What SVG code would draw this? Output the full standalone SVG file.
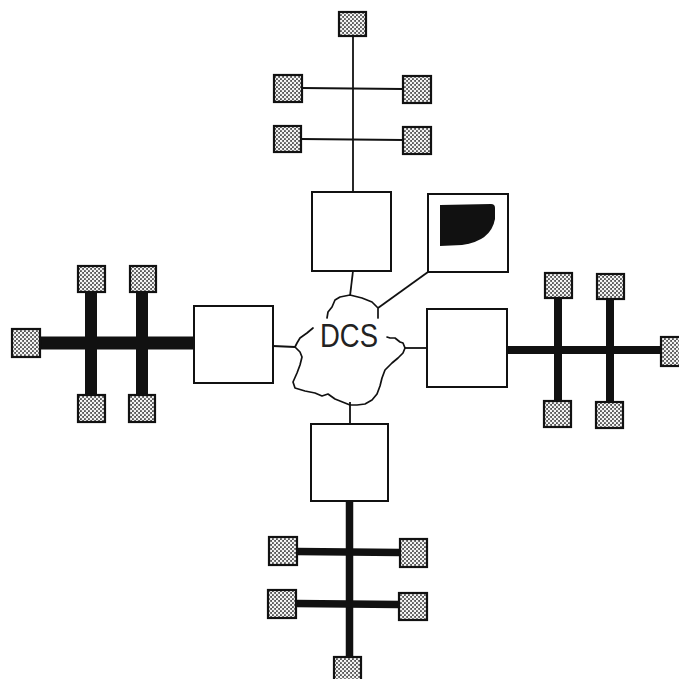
<svg xmlns="http://www.w3.org/2000/svg" width="679" height="679" viewBox="0 0 679 679">
<defs>
<pattern id="dots" width="4" height="4" patternUnits="userSpaceOnUse">
<rect width="4" height="4" fill="#555"/>
<circle cx="1" cy="1" r="1.3" fill="#f4f4f4"/>
<circle cx="3" cy="3" r="1.3" fill="#f4f4f4"/>
</pattern>
</defs>
<style>
.term{fill:url(#dots);stroke:#111;stroke-width:2.2}
.box{fill:#fff;stroke:#111;stroke-width:2}
.thin{stroke:#111;stroke-width:1.8;fill:none}
.cloud{stroke:#111;stroke-width:1.7;fill:none;stroke-linejoin:round;stroke-linecap:round}
.bus{stroke:#111;fill:none}
.lbl{font-family:"Liberation Sans",Arial,sans-serif;fill:#222}
</style>
<rect width="679" height="679" fill="#fff"/>
<g id="connectors">
<line class="thin" x1="353" y1="36" x2="353" y2="192"/>
<line class="thin" x1="302" y1="88" x2="403" y2="89"/>
<line class="thin" x1="301" y1="139" x2="403" y2="140"/>
<line class="thin" x1="353" y1="271" x2="350" y2="296"/>
<line class="thin" x1="428" y1="272" x2="378" y2="308"/>
<line class="thin" x1="273" y1="346" x2="295" y2="347"/>
<line class="thin" x1="405" y1="348" x2="427" y2="348"/>
<line class="thin" x1="350" y1="402" x2="350" y2="424"/>
<line class="bus" stroke-width="13" x1="40" y1="343" x2="195" y2="343"/>
<line class="bus" stroke-width="12" x1="91" y1="292" x2="91" y2="395"/>
<line class="bus" stroke-width="12" x1="142" y1="292" x2="142" y2="395"/>
<line class="bus" stroke-width="8" x1="507" y1="350" x2="661" y2="350"/>
<line class="bus" stroke-width="8" x1="558" y1="298" x2="558" y2="401"/>
<line class="bus" stroke-width="8" x1="610" y1="299" x2="610" y2="402"/>
<line class="bus" stroke-width="7.5" x1="349.5" y1="500" x2="349.5" y2="658"/>
<line class="bus" stroke-width="7.5" x1="297" y1="551.5" x2="400" y2="552.5"/>
<line class="bus" stroke-width="7.5" x1="296" y1="603.5" x2="399" y2="604.5"/>
</g>
<g id="dcs">
<path class="cloud" d="M327,318 L328,312 L332,307 L335,300 L340,297 L350,295 L362,298 L372,302 L377,307 L378,308 L378,318"/>
<path class="cloud" d="M313,328 L307,333 L300,338 L297,343 L295,347 L300,352 L302,357 L300,365 L297,373 L293,382 L295,388 L305,391 L315,393 L322,396 L328,394 L335,399 L345,403 L350,405 L357,405 L365,404 L372,400 L377,394 L380,386 L382,378 L385,370 L392,363 L398,358 L403,353 L405,348 L403,343 L400,342 L395,338 L390,338 L387,337"/>
<text class="lbl" x="320" y="347" font-size="33" textLength="58" lengthAdjust="spacingAndGlyphs">DCS</text>
</g>
<g id="box-top"><rect class="box" x="312" y="192" width="79" height="79"/></g>
<g id="display"><rect class="box" x="428" y="194" width="80" height="78"/>
<path d="M440,205 L491,204 Q495,204 495,208 L495,219 Q491,241 462,245 L440,246 Z" fill="#111"/></g>
<g id="box-left"><rect class="box" x="194" y="306" width="79" height="77"/></g>
<g id="box-right"><rect class="box" x="427" y="309" width="80" height="78"/></g>
<g id="box-bottom"><rect class="box" x="311" y="424" width="77" height="77"/></g>
<g id="t-top-1"><rect class="term" x="339" y="12" width="27" height="24"/></g>
<g id="t-top-2"><rect class="term" x="274" y="75" width="28" height="27"/></g>
<g id="t-top-3"><rect class="term" x="403" y="76" width="28" height="27"/></g>
<g id="t-top-4"><rect class="term" x="274" y="126" width="27" height="26"/></g>
<g id="t-top-5"><rect class="term" x="403" y="127" width="28" height="27"/></g>
<g id="t-left-1"><rect class="term" x="12" y="329" width="28" height="28"/></g>
<g id="t-left-2"><rect class="term" x="78" y="266" width="27" height="26"/></g>
<g id="t-left-3"><rect class="term" x="130" y="266" width="26" height="26"/></g>
<g id="t-left-4"><rect class="term" x="78" y="395" width="27" height="27"/></g>
<g id="t-left-5"><rect class="term" x="129" y="395" width="26" height="27"/></g>
<g id="t-right-1"><rect class="term" x="545" y="273" width="27" height="25"/></g>
<g id="t-right-2"><rect class="term" x="597" y="274" width="27" height="25"/></g>
<g id="t-right-3"><rect class="term" x="544" y="401" width="27" height="26"/></g>
<g id="t-right-4"><rect class="term" x="596" y="402" width="27" height="26"/></g>
<g id="t-right-5"><rect class="term" x="661" y="337" width="26" height="29"/></g>
<g id="t-bot-1"><rect class="term" x="269" y="537" width="28" height="28"/></g>
<g id="t-bot-2"><rect class="term" x="400" y="539" width="27" height="28"/></g>
<g id="t-bot-3"><rect class="term" x="268" y="590" width="28" height="28"/></g>
<g id="t-bot-4"><rect class="term" x="399" y="593" width="28" height="27"/></g>
<g id="t-bot-5"><rect class="term" x="334" y="657" width="27" height="26"/></g>
</svg>
